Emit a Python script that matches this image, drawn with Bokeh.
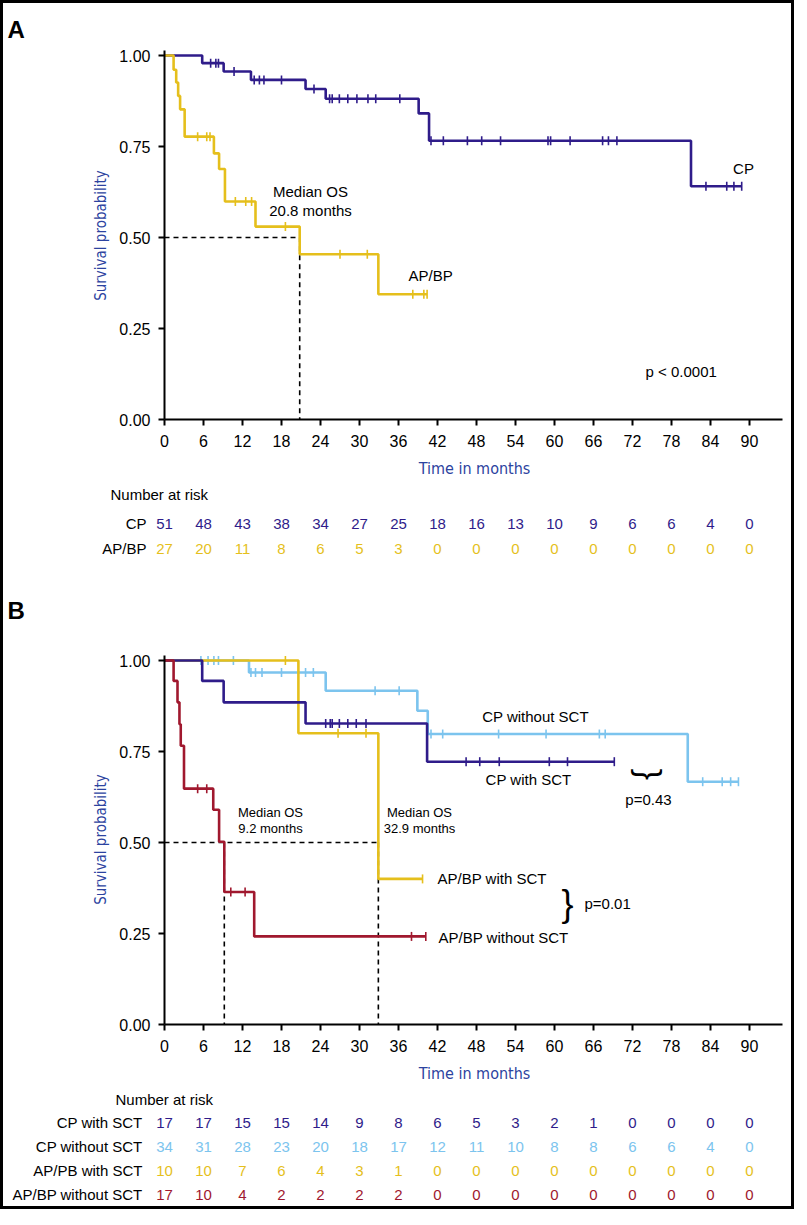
import numpy as np
from bokeh.plotting import figure
from bokeh.models import Range1d, LinearAxis, FixedTicker, NumeralTickFormatter
from bokeh.core.properties import value
from bokeh.embed import file_html
from bokeh.resources import INLINE

# ---------------- data ----------------
months_ticks = list(range(0, 91, 6))
surv_ticks = [0.0, 0.25, 0.5, 0.75, 1.0]

# Panel A
cpA_times = [5.8, 9.1, 13.3, 21.7, 24.8, 39.1, 40.7, 81.0]
cpA_surv = [0.979, 0.956, 0.933, 0.908, 0.881, 0.841, 0.766, 0.641]
cpA_end = 88.8
cpA_cens = [7.1, 7.9, 8.3, 10.7, 13.8, 14.6, 15.3, 18.0, 23.0, 25.4, 25.8, 26.9,
            28.2, 29.6, 31.3, 32.5, 36.2, 41.0, 42.9, 46.6, 48.8, 51.7, 59.0, 59.4,
            62.4, 67.4, 68.3, 69.6, 83.3, 86.5, 87.6, 88.8]

apA_times = [1.4, 1.8, 2.1, 2.4, 3.1, 7.6, 8.4, 9.3, 14.0, 20.8, 32.9]
apA_surv = [0.961, 0.926, 0.889, 0.852, 0.777, 0.731, 0.688, 0.599, 0.530, 0.454, 0.344]
apA_end = 40.4
apA_cens = [5.1, 6.5, 7.0, 10.9, 12.5, 13.4, 18.6, 27.0, 31.2, 38.2, 39.9, 40.4]

medianA = [20.8]

riskA_labels = ["CP", "AP/BP"]
riskA_cp = [51, 48, 43, 38, 34, 27, 25, 18, 16, 13, 10, 9, 6, 6, 4, 0]
riskA_ap = [27, 20, 11, 8, 6, 5, 3, 0, 0, 0, 0, 0, 0, 0, 0, 0]

# Panel B
cpw_times = [5.8, 9.1, 21.7, 40.4]
cpw_surv = [0.944, 0.885, 0.827, 0.722]
cpw_end = 69.2
cpw_cens = [24.8, 25.5, 25.8, 26.9, 28.2, 29.5, 31.0, 46.4, 48.5, 51.5, 59.2, 62.0, 69.2]

cpwo_times = [13.0, 24.8, 38.9, 40.5, 80.5]
cpwo_surv = [0.967, 0.917, 0.862, 0.798, 0.667]
cpwo_end = 88.3
cpwo_cens = [5.6, 6.7, 7.6, 8.3, 10.6, 13.3, 14.0, 15.0, 18.0, 21.7, 22.9, 32.4, 36.1,
             41.0, 42.8, 51.4, 58.7, 66.9, 67.8, 82.8, 85.8, 87.1, 88.3]

apw_times = [20.6, 32.9]
apw_surv = [0.80, 0.40]
apw_end = 39.7
apw_cens = [18.6, 26.7, 31.0, 39.7]

apwo_times = [1.4, 2.0, 2.3, 2.5, 3.0, 7.5, 8.4, 9.2, 13.8]
apwo_surv = [0.944, 0.885, 0.825, 0.766, 0.648, 0.590, 0.502, 0.364, 0.242]
apwo_end = 40.2
apwo_cens = [5.1, 6.5, 10.2, 12.4, 38.0, 40.2]

medianB = [9.2, 32.9]

riskB_labels = ["CP with SCT", "CP without SCT", "AP/PB with SCT", "AP/BP without SCT"]
riskB_cpw = [17, 17, 15, 15, 14, 9, 8, 6, 5, 3, 2, 1, 0, 0, 0, 0]
riskB_cpwo = [34, 31, 28, 23, 20, 18, 17, 12, 11, 10, 8, 8, 6, 6, 4, 0]
riskB_apw = [10, 10, 7, 6, 4, 3, 1, 0, 0, 0, 0, 0, 0, 0, 0, 0]
riskB_apwo = [17, 10, 4, 2, 2, 2, 2, 0, 0, 0, 0, 0, 0, 0, 0, 0]

# ---------------- styling / layout ----------------
PURPLE = "#2f1c8a"
GOLD = "#e5bf1c"
LBLUE = "#7cc4ee"
RED = "#a0182e"
BLUE_TXT = "#2c43a0"
FONT = value("Liberation Sans")
NARROW = value("Liberation Sans Narrow, DejaVu Sans Condensed, Liberation Sans")

W, H = 794, 1209
OX, OY = 8, 8
X0_PX, PX_PER_MONTH = 172, 6.5
A_ZERO_PX, B_ZERO_PX, PX_PER_UNIT = 427, 1032, 364


def mx(px):
    return (px - X0_PX) / PX_PER_MONTH


def ya(py):
    return (A_ZERO_PX - py) / PX_PER_UNIT


def yb(py):
    return (B_ZERO_PX - py) / PX_PER_UNIT


p = figure(width=W, height=H, title=None,
           x_range=Range1d(mx(OX), mx(OX + W)),
           y_range=Range1d(ya(OY + H), ya(OY)),
           x_axis_type=None, y_axis_type=None,
           toolbar_location=None, output_backend="svg", min_border=0,
           outline_line_color="black", outline_line_width=5,
           background_fill_color="white", border_fill_color="white")
p.extra_y_ranges = {"B": Range1d(yb(OY + H), yb(OY))}


def style_axis(ax):
    ax.axis_line_width = 2
    ax.axis_line_color = "black"
    ax.major_tick_line_width = 2
    ax.major_tick_in = 0
    ax.major_tick_out = 6
    ax.minor_tick_line_color = None
    ax.major_label_text_font = "Liberation Sans"
    ax.major_label_text_font_size = "16px"
    ax.major_label_text_color = "black"


for zero_loc, rng in [(0.0, "default"), (ya(B_ZERO_PX), "B")]:
    xa = LinearAxis(fixed_location=zero_loc, bounds=(0, 95),
                    ticker=FixedTicker(ticks=months_ticks, minor_ticks=[]))
    style_axis(xa)
    xa.major_label_standoff = 9
    p.add_layout(xa, "below")
    yax = LinearAxis(fixed_location=0, bounds=(0, 1.015), y_range_name=rng,
                     ticker=FixedTicker(ticks=surv_ticks, minor_ticks=[]),
                     formatter=NumeralTickFormatter(format="0.00"))
    style_axis(yax)
    yax.major_label_standoff = 8
    p.add_layout(yax, "left")


def surv_at(t, times, surv):
    i = int(np.searchsorted(times, t, side="right"))
    return 1.0 if i == 0 else surv[i - 1]


def km(times, surv, end, cens, color, rng="default"):
    xs = [0.0] + list(times) + [end]
    ys = [1.0] + list(surv) + [surv[-1]]
    p.step(xs, ys, mode="after", line_color=color, line_width=2.6, y_range_name=rng)
    cy = [surv_at(t, times, surv) for t in cens]
    p.scatter(cens, cy, marker="dash", angle=np.pi / 2, size=9, line_color=color,
              line_width=1.6, y_range_name=rng)


def txt(xpx, ypx, s, size="15px", color="black", align="left", baseline="middle",
        font=FONT, style="normal", angle=0.0):
    p.text([mx(xpx)], [ya(ypx)], text=[s], text_font=font, text_font_size=size,
           text_color=color, text_align=align, text_baseline=baseline,
           text_font_style=style, angle=angle)


# median dashed lines
for m in medianA:
    p.line([0, m, m], [0.5, 0.5, 0.0], line_color="black", line_width=1.6, line_dash="5 4")
p.line([0, max(medianB)], [0.5, 0.5], line_color="black", line_width=1.6,
       line_dash="5 4", y_range_name="B")
for m in medianB:
    p.line([m, m], [0.5, 0.0], line_color="black", line_width=1.6, line_dash="5 4",
           y_range_name="B")

# curves A
km(cpA_times, cpA_surv, cpA_end, cpA_cens, PURPLE)
km(apA_times, apA_surv, apA_end, apA_cens, GOLD)

# curves B
km(cpwo_times, cpwo_surv, cpwo_end, cpwo_cens, LBLUE, "B")
km(apw_times, apw_surv, apw_end, apw_cens, GOLD, "B")
km(cpw_times, cpw_surv, cpw_end, cpw_cens, PURPLE, "B")
km(apwo_times, apwo_surv, apwo_end, apwo_cens, RED, "B")

# ---------- Panel A texts ----------
txt(15, 37, "A", size="24px", style="bold", baseline="alphabetic")
txt(108, 243, "Survival probability", size="15px", color=BLUE_TXT, align="center",
    font=NARROW, angle=np.pi / 2)
txt(482, 476, "Time in months", size="16px", color=BLUE_TXT, align="center", font=NARROW)
txt(318, 199, "Median OS", align="center")
txt(318, 218, "20.8 months", align="center")
txt(751, 176, "CP", align="center")
txt(416, 283, "AP/BP")
txt(653, 379, "p < 0.0001")
txt(118, 502, "Number at risk")
for lab, row, ypx, col in [(riskA_labels[0], riskA_cp, 531, PURPLE),
                           (riskA_labels[1], riskA_ap, 556, GOLD)]:
    txt(154, ypx, lab, align="right")
    p.text(months_ticks, [ya(ypx)] * len(row), text=[str(v) for v in row],
           text_font=FONT, text_font_size="15px", text_color=col,
           text_align="center", text_baseline="middle")

# ---------- Panel B texts ----------
txt(15, 618, "B", size="24px", style="bold", baseline="alphabetic")
txt(108, 847, "Survival probability", size="15px", color=BLUE_TXT, align="center",
    font=NARROW, angle=np.pi / 2)
txt(482, 1081, "Time in months", size="16px", color=BLUE_TXT, align="center", font=NARROW)
txt(278, 820, "Median OS", size="13px", align="center")
txt(278, 836, "9.2 months", size="13px", align="center")
txt(427, 820, "Median OS", size="13px", align="center")
txt(427, 836, "32.9 months", size="13px", align="center")
txt(543, 724, "CP without SCT", align="center")
txt(536, 787, "CP with SCT", align="center")
txt(657, 782, "}", size="34px", align="center", angle=-np.pi / 2)
txt(656, 807, "p=0.43", align="center")
txt(445, 886, "AP/BP with SCT")
txt(446, 945, "AP/BP without SCT")
txt(575, 911, "}", size="36px", align="center")
txt(592, 911, "p=0.01")
txt(123, 1107, "Number at risk")
for lab, row, ypx, col in [(riskB_labels[0], riskB_cpw, 1130, PURPLE),
                           (riskB_labels[1], riskB_cpwo, 1154, LBLUE),
                           (riskB_labels[2], riskB_apw, 1178, GOLD),
                           (riskB_labels[3], riskB_apwo, 1202, RED)]:
    txt(150, ypx, lab, align="right")
    p.text(months_ticks, [ya(ypx)] * len(row), text=[str(v) for v in row],
           text_font=FONT, text_font_size="15px", text_color=col,
           text_align="center", text_baseline="middle")

open("out.html", "w").write(file_html(p, INLINE))
